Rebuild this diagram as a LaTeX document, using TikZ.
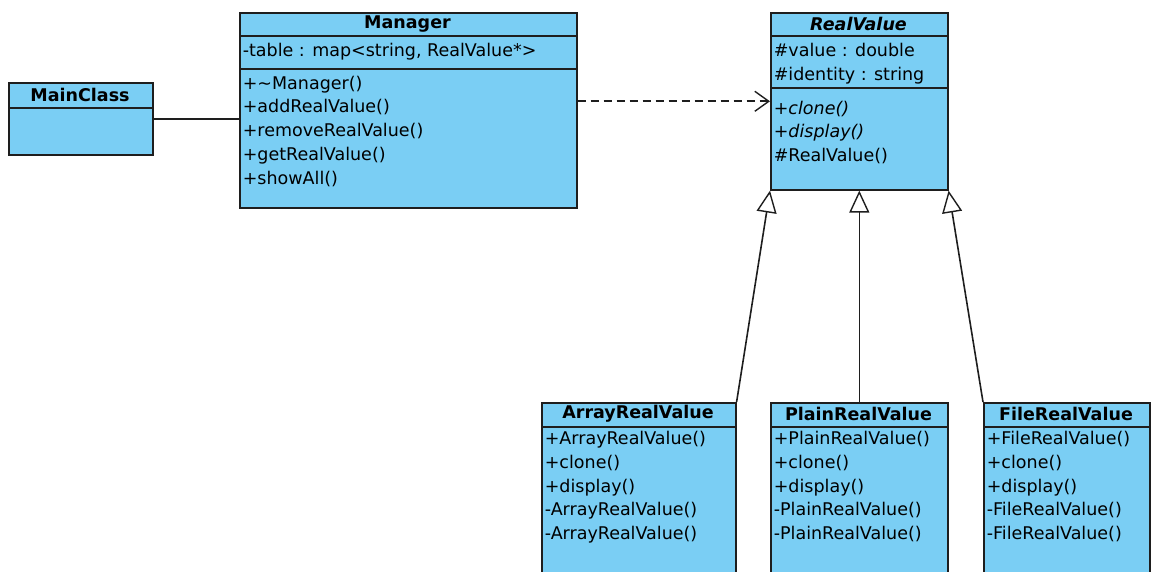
\documentclass[tikz,border=0pt]{standalone}
\usepackage{fontspec}
\setmainfont{DejaVu Sans}
\usetikzlibrary{arrows.meta}
\definecolor{umlblue}{RGB}{122,206,244}
\definecolor{umlline}{RGB}{30,30,30}
\newcommand{\umlfont}{\fontsize{17.5}{20}\selectfont}
\begin{document}
\begin{tikzpicture}[x=1pt, y=-1pt, line width=1.6pt, draw=umlline,
  classbox/.style={draw=umlline, fill=umlblue, anchor=north west, inner sep=0pt},
  classname/.style={font=\umlfont\bfseries, inner sep=0pt},
  member/.style={font=\umlfont, anchor=west, inner sep=0pt, text height=13pt, text depth=4pt},
  assoc/.style={draw=umlline},
  depend/.style={draw=umlline, dash pattern=on 8pt off 5pt, -{Straight Barb[length=14pt, width=20pt, line width=1.4pt]}},
  inherit/.style={draw=umlline, -{Triangle[open, length=22pt, width=20pt, fill=white, line width=1.4pt]}}]
  \useasboundingbox (0,0) rectangle (1154,572);
  \clip (0,0) rectangle (1154,572);
  % main class
  \node[classbox, minimum width=144pt, minimum height=72pt] (main) at (8,82) {};
  \node[classname] (main-t) at (80,95) {MainClass};
  \draw (8,108) -- (152,108);
  % manager
  \node[classbox, minimum width=337pt, minimum height=195pt] (mgr) at (239,12) {};
  \node[classname] (mgr-t) at (407.5,24) {Manager};
  \draw (239,36) -- (576,36);
  \node[member] (mgr-a1) at (242,52) {-table : map<string, RealValue*>};
  \draw (239,69) -- (576,69);
  \node[member] (mgr-m1) at (242,85) {+\textasciitilde Manager()};
  \node[member] (mgr-m2) at (242,108) {+addRealValue()};
  \node[member] (mgr-m3) at (242,132) {+removeRealValue()};
  \node[member] (mgr-m4) at (242,156) {+getRealValue()};
  \node[member] (mgr-m5) at (242,180) {+showAll()};
  % abstract base
  \node[classbox, minimum width=177pt, minimum height=177pt] (rv) at (770,12) {};
  \node[classname, font=\umlfont\bfseries\itshape] (rv-t) at (858.5,24) {RealValue};
  \draw (770,36) -- (947,36);
  \node[member] (rv-a1) at (773,52) {\#value : double};
  \node[member] (rv-a2) at (773,76) {\#identity : string};
  \draw (770,88) -- (947,88);
  \node[member, font=\umlfont\itshape] (rv-m1) at (773,110) {+clone()};
  \node[member, font=\umlfont\itshape] (rv-m2) at (773,133) {+display()};
  \node[member] (rv-m3) at (773,157) {\#RealValue()};
  % array
  \node[classbox, minimum width=194pt, minimum height=190pt] (arr) at (541,402) {};
  \node[classname] (arr-t) at (638,414) {ArrayRealValue};
  \draw (541,427) -- (735,427);
  \node[member] (arr-m1) at (544,440) {+ArrayRealValue()};
  \node[member] (arr-m2) at (544,464) {+clone()};
  \node[member] (arr-m3) at (544,488) {+display()};
  \node[member] (arr-m4) at (544,511) {-ArrayRealValue()};
  \node[member] (arr-m5) at (544,535) {-ArrayRealValue()};
  % plain
  \node[classbox, minimum width=177pt, minimum height=190pt] (pl) at (770,402) {};
  \node[classname] (pl-t) at (858.5,414) {PlainRealValue};
  \draw (770,427) -- (947,427);
  \node[member] (pl-m1) at (773,440) {+PlainRealValue()};
  \node[member] (pl-m2) at (773,464) {+clone()};
  \node[member] (pl-m3) at (773,488) {+display()};
  \node[member] (pl-m4) at (773,511) {-PlainRealValue()};
  \node[member] (pl-m5) at (773,535) {-PlainRealValue()};
  % file
  \node[classbox, minimum width=166pt, minimum height=190pt] (fl) at (983,402) {};
  \node[classname] (fl-t) at (1066,414) {FileRealValue};
  \draw (983,427) -- (1149,427);
  \node[member] (fl-m1) at (986,440) {+FileRealValue()};
  \node[member] (fl-m2) at (986,464) {+clone()};
  \node[member] (fl-m3) at (986,488) {+display()};
  \node[member] (fl-m4) at (986,511) {-FileRealValue()};
  \node[member] (fl-m5) at (986,535) {-FileRealValue()};
  % relations
  \draw[assoc] (main.east) -- (main.east -| mgr.west);
  \draw[depend] (mgr.east |- rv.west) -- (rv.west);
  \draw[inherit] (arr.north east) -- (rv.south west);
  \draw[inherit] (pl.north) -- (rv.south);
  \draw[inherit] (fl.north west) -- (rv.south east);
\end{tikzpicture}
\end{document}
